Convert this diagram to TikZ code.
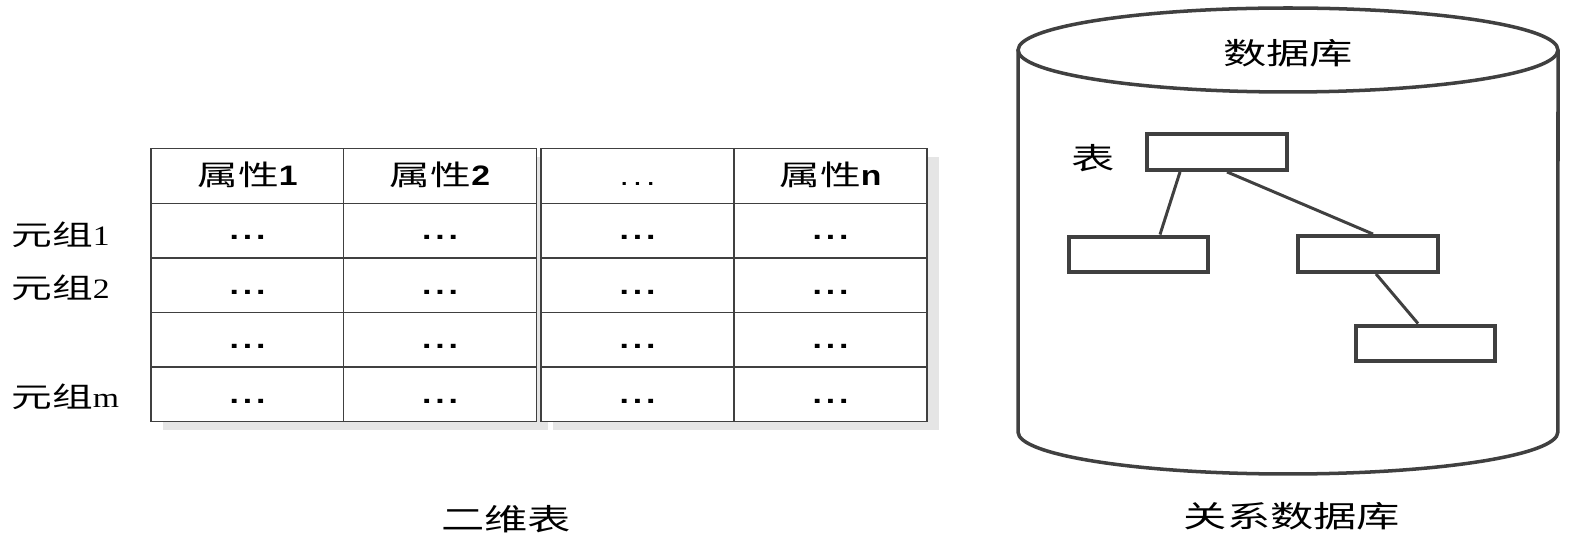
\documentclass[tikz,border=0pt]{standalone}
\usepackage{fontspec}
\setmainfont[FakeStretch=1.45]{Noto Sans CJK SC}
\newfontfamily\latinsans[FakeStretch=1.2]{Liberation Sans}
\newfontfamily\latinserif[FakeStretch=1.2]{Liberation Serif}
\usetikzlibrary{shadows}
\newcommand{\celldots}{{\latinsans\bfseries .\kern2.2pt.\kern2.2pt.}}

\begin{document}
\begin{tikzpicture}[x=0.02cm, y=0.02cm,
    cell/.style={rectangle, draw=black!75, line width=0.8pt, fill=white,
        minimum width=3.86cm, minimum height=1.092cm, inner sep=0pt,
        text height=12pt, text depth=1.7pt,
        font=\fontsize{16}{19}\selectfont,
        drop shadow={shadow xshift=6.8pt, shadow yshift=-4.5pt,
            fill=black!10, opacity=1}},
    rowtext/.style={anchor=west, inner sep=0pt, font=\fontsize{16}{19}\selectfont},
    captext/.style={inner sep=0pt, font=\fontsize{17}{20}\selectfont},
    dbtable/.style={rectangle, draw=black!75, line width=2.5pt, fill=white,
        minimum width=2.79cm, minimum height=0.71cm, inner sep=0pt},
    db/.style={draw=black!75, line width=2pt},
    link/.style={draw=black!75, line width=1.7pt}
]
    \useasboundingbox (0,0) rectangle (1571,544);
    % two-dimensional table
    \node[cell] (h1) at (247.5,368) {属性{\latinsans\bfseries 1}};
    \node[cell] (r1a) at (247.5,313.4) {\celldots};
    \node[cell] (r2a) at (247.5,258.8) {\celldots};
    \node[cell] (r3a) at (247.5,204.2) {\celldots};
    \node[cell] (r4a) at (247.5,149.6) {\celldots};
    \node[cell] (h2) at (440,368) {属性{\latinsans\bfseries 2}};
    \node[cell] (r1b) at (440,313.4) {\celldots};
    \node[cell] (r2b) at (440,258.8) {\celldots};
    \node[cell] (r3b) at (440,204.2) {\celldots};
    \node[cell] (r4b) at (440,149.6) {\celldots};
    \node[cell] (h3) at (637.5,368) {{\latinsans .\kern2.2pt.\kern2.2pt.}};
    \node[cell] (r1c) at (637.5,313.4) {\celldots};
    \node[cell] (r2c) at (637.5,258.8) {\celldots};
    \node[cell] (r3c) at (637.5,204.2) {\celldots};
    \node[cell] (r4c) at (637.5,149.6) {\celldots};
    \node[cell] (h4) at (830.5,368) {属性{\latinsans\bfseries n}};
    \node[cell] (r1d) at (830.5,313.4) {\celldots};
    \node[cell] (r2d) at (830.5,258.8) {\celldots};
    \node[cell] (r3d) at (830.5,204.2) {\celldots};
    \node[cell] (r4d) at (830.5,149.6) {\celldots};
    \node[rowtext] (tup1) at (11,309) {元组{\latinserif 1}};
    \node[rowtext] (tup2) at (11,256) {元组{\latinserif 2}};
    \node[rowtext] (tupm) at (11,147) {元组{\latinserif m}};
    \node[captext] (cap1) at (506,25) {二维表};
    % relational database
    \draw[db] (1288,494) ellipse [x radius=5.4cm, y radius=0.84cm];
    \draw[db] (1018,494) -- (1018,112)
        arc [start angle=180, end angle=360, x radius=5.4cm, y radius=0.84cm]
        -- (1558,494);
    \node[captext] (dbname) at (1288,490.5) {数据库};
    \node[captext] (tbl) at (1093,386) {表};
    \node[dbtable] (t) at (1217,392) {};
    \node[dbtable] (l) at (1138.5,289.5) {};
    \node[dbtable] (r) at (1368,290) {};
    \node[dbtable] (b) at (1425.5,200.5) {};
    \draw[link] ([xshift=-0.74cm]t.south) -- ([xshift=0.43cm]l.north);
    \draw[link] ([xshift=0.2cm]t.south) -- ([xshift=0.1cm]r.north);
    \draw[link] ([xshift=0.16cm]r.south) -- ([xshift=-0.15cm]b.north);
    \node[captext] (cap2) at (1292,27.5) {关系数据库};
\end{tikzpicture}
\end{document}
